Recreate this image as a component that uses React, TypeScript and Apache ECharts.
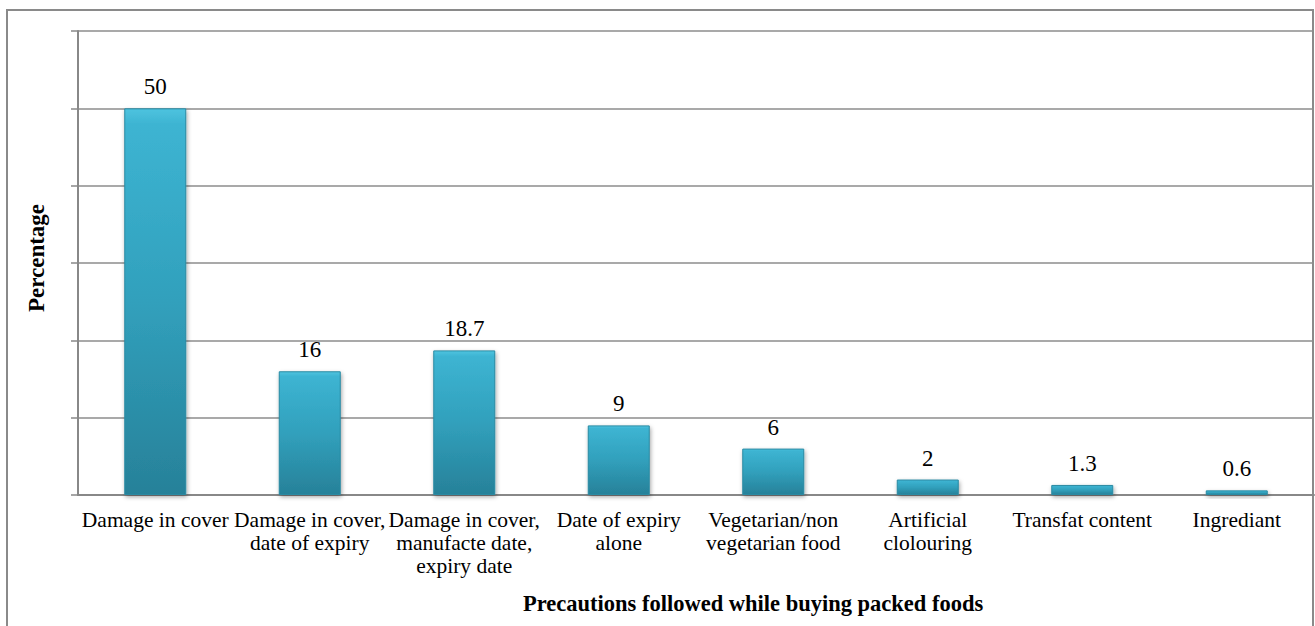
import React, { useEffect, useRef } from "react";
import * as echarts from "echarts";

const categories = [
  "Damage in cover",
  "Damage in cover,\ndate of expiry",
  "Damage in cover,\nmanufacte date,\nexpiry date",
  "Date of expiry\nalone",
  "Vegetarian/non\nvegetarian food",
  "Artificial\nclolouring",
  "Transfat content",
  "Ingrediant",
];
const values = [50, 16, 18.7, 9, 6, 2, 1.3, 0.6];
const xTitle = "Precautions followed while buying packed foods";
const yTitle = "Percentage";

const FONT = "'Liberation Serif', 'Times New Roman', serif";

export default function App() {
  const ref = useRef<HTMLDivElement>(null);
  useEffect(() => {
    if (!ref.current) return;
    const chart = echarts.init(ref.current, null, { renderer: "svg" });
    chart.setOption({
      animation: false,
      backgroundColor: "#ffffff",
      textStyle: { fontFamily: FONT, color: "#000" },
      graphic: [
        {
          type: "rect",
          shape: { x: 7, y: 10, width: 1306, height: 640 },
          style: { fill: "none", stroke: "#8a8a8a", lineWidth: 2 },
          silent: true,
        },
        {
          type: "text",
          x: 523,
          y: 603,
          style: {
            text: xTitle,
            fontFamily: FONT,
            fontSize: 22.5,
            fontWeight: "bold",
            fill: "#000",
            align: "left",
            verticalAlign: "middle",
          },
          silent: true,
        },
        {
          type: "text",
          x: 36,
          y: 258,
          rotation: Math.PI / 2,
          style: {
            text: yTitle,
            fontFamily: FONT,
            fontSize: 23,
            fontWeight: "bold",
            fill: "#000",
            align: "center",
            verticalAlign: "middle",
          },
          silent: true,
        },
      ],
      grid: { left: 78, right: 1, top: 31, bottom: 131 },
      xAxis: {
        type: "category",
        data: categories,
        axisLine: { show: true, lineStyle: { color: "#888", width: 2 } },
        axisTick: { show: false },
        axisLabel: {
          interval: 0,
          fontFamily: FONT,
          fontSize: 21.5,
          lineHeight: 23,
          color: "#000",
          margin: 13,
          align: "center",
        },
      },
      yAxis: {
        type: "value",
        min: 0,
        max: 60,
        interval: 10,
        axisLine: { show: true, lineStyle: { color: "#888", width: 2 } },
        axisTick: { show: true, length: 7, lineStyle: { color: "#888", width: 1.5 } },
        axisLabel: { show: false },
        splitLine: { show: true, lineStyle: { color: "#8c8c8c", width: 1.5 } },
      },
      series: [
        {
          type: "bar",
          data: values,
          barWidth: 62,
          itemStyle: {
            color: new echarts.graphic.LinearGradient(0, 0, 0, 1, [
              { offset: 0, color: "#4ec3df" },
              { offset: 0.04, color: "#3db4d2" },
              { offset: 0.5, color: "#31a0bc" },
              { offset: 1, color: "#278199" },
            ]),
            borderColor: "#2a8aa3",
            borderWidth: 1,
            shadowColor: "rgba(0,0,0,0.35)",
            shadowBlur: 4,
            shadowOffsetX: 1,
            shadowOffsetY: 2,
          },
          label: {
            show: true,
            position: "top",
            distance: 10,
            fontFamily: FONT,
            fontSize: 23,
            color: "#000",
          },
        },
      ],
    });
    return () => chart.dispose();
  }, []);
  return (
    <div
      ref={ref}
      style={{ position: "absolute", left: 0, top: 0, width: 1315, height: 626 }}
    />
  );
}
